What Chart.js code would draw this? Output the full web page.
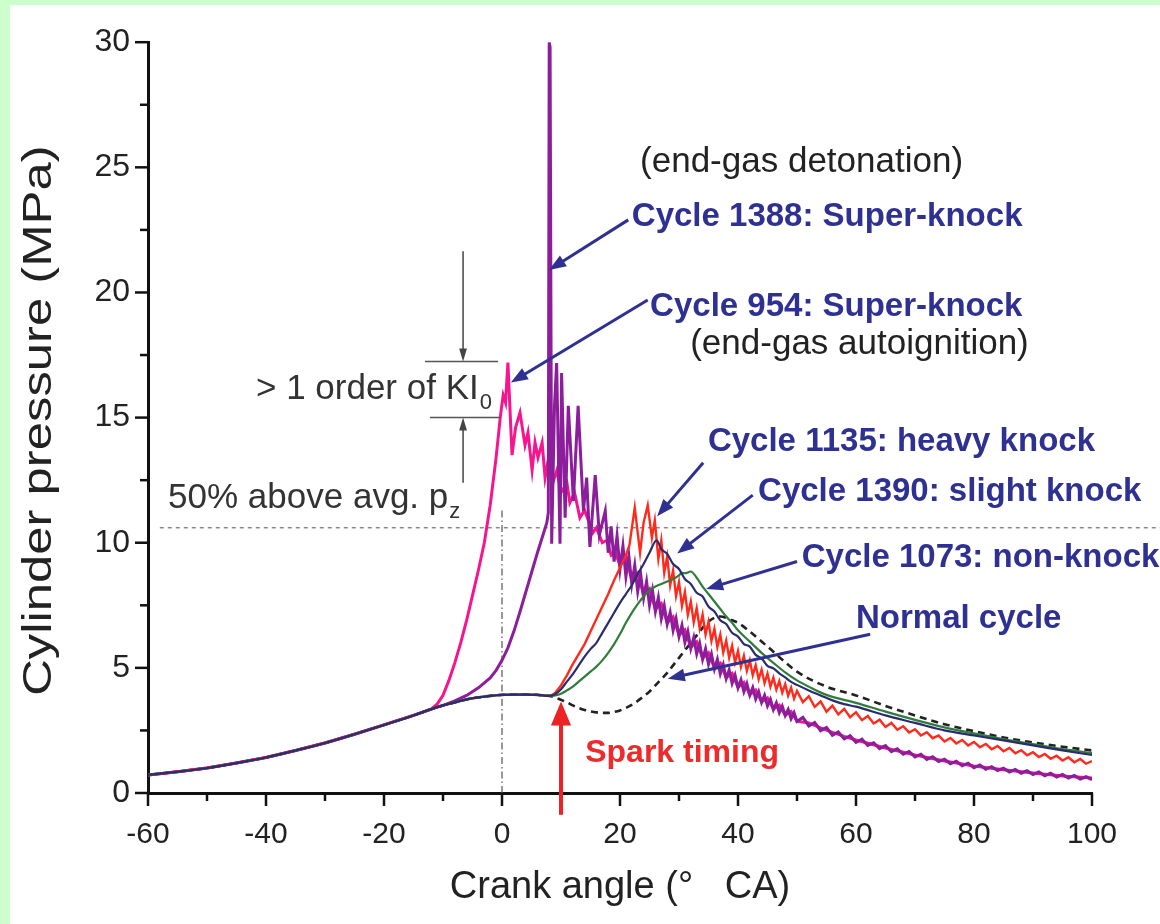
<!DOCTYPE html>
<html>
<head>
<meta charset="utf-8">
<script src="https://cdn.jsdelivr.net/npm/chart.js@4.4.1/dist/chart.umd.min.js"></script>
<style>
  html, body { margin: 0; padding: 0; background: #ccffcc; }
  #wrap { position: absolute; left: 10px; top: 5px; width: 1150px; height: 919px; background: #fff; }
</style>
</head>
<body>
<div id="wrap"><canvas id="chart" width="1150" height="919"></canvas></div>
<script>
// cylinder pressure traces, [crank angle °CA, pressure MPa]

// compression stroke, shared by every cycle until it departs
const compression = [[-60,0.72],[-55,0.85],[-50,1.0],[-45,1.2],[-40,1.42],[-35,1.7],[-30,2.0],
  [-25,2.35],[-20,2.72],[-15,3.1],[-12,3.35],[-10,3.5],[-8,3.62],[-6,3.74],[-4,3.82],[-2,3.88],
  [0,3.92],[2,3.93],[4,3.93],[6,3.92],[8,3.88]];

// Cycle 954 (super-knock, end-gas autoignition)
const head954 = [[-11,3.55],[-10,3.9],[-9,4.5],[-8,5.2],[-7,6.0],[-6,6.9],[-5,7.9],[-4,8.9],
  [-3,10.0],[-2,11.5],[-1,13.4],[-0.3,15.0],[0.2,15.9],[0.6,15.6],[1.0,17.2],[1.7,13.5],[2.3,14.6],
  [3.05,15.2],[3.9,13.9],[4.4,14.4],[5.1,12.9],[5.6,14.0],[6.1,13.4],[6.8,14.0],[7.3,12.6],
  [7.9,13.4],[8.5,12.3],[9.3,12.9],[10,12.0],[11,12.4],[11.5,11.6],[12.3,12.0],[13.2,11.0],
  [14,11.3],[15.4,10.4],[16,10.6],[17,10.0],[17.8,10.1],[18.5,9.5],[19.2,9.6],[20,9.1]];
const tail954 = [9.45,8.5,8.78,7.92,8.16,7.34,7.57,6.8,7.04,6.31,6.52,5.83,6.04,5.39,5.6,5.0,
  5.19,4.61,4.78,4.22,4.42,3.93,4.11,3.64,3.8,3.35,3.51,3.11,3.25,2.87];      // 21..50, every 1°
const end954 = [[52,2.8],[54,2.6],[56,2.42],[58,2.26],[60,2.12],[65,1.8],[70,1.52],[75,1.28],
  [80,1.08],[85,0.93],[90,0.8],[95,0.68],[100,0.6]];

// Cycle 1388 (super-knock, end-gas detonation)
const head1388 = [[-8,3.68],[-6,3.9],[-4,4.2],[-2,4.6],[-1,4.9],[0,5.3],[1,5.8],[2,6.45],[3,7.2],
  [4,8.0],[5,8.8],[6,9.6],[7,10.35],[7.6,10.8],[7.85,11.2],[8.0,30],[8.15,29.8],[8.42,9.96],
  [8.9,15.5],[9.26,17.18],[9.83,9.96],[10.1,16.78],[10.7,11.0],[11.24,15.47],[12.1,11.67],
  [12.9,15.47],[13.8,11.27],[14.35,12.6],[14.9,9.83],[15.8,12.7],[16.5,10.3],[17.5,11.27],[18.0,9.6]];
const tail1388Fine = [10.65,9.25,10.27,8.95,9.87,8.65,9.47,8.35,9.1,8.05,
  8.75,7.8,8.45,7.5,8.1,7.25,7.81,6.97,7.49,6.75,
  7.22,6.5,6.97,6.25,6.7,6.02,6.45,5.77,6.21,5.56,
  5.98,5.34,5.76,5.15,5.55,4.95,5.34,4.76,5.13,4.57,
  4.92,4.38,4.71,4.2,4.52,4.05,4.37,3.91,4.21,3.76,
  4.05,3.62,3.9,3.48,3.74,3.33,3.6,3.21,3.47,3.1,
  3.34,2.97,3.21,2.86];                                                     // 18.5..50, every 0.5°
const tail1388Coarse = [3.02,2.68,2.82,2.49,2.62,2.31,2.44,2.16,2.29,2.02,2.15,1.9,2.01,1.77,
  1.89,1.65,1.77,1.55,1.66,1.44,1.55,1.34,1.45,1.26,1.35,1.17,1.27,1.09,1.19,1.01,1.12,0.95,
  1.05,0.9,0.99,0.84,0.94,0.79,0.89,0.74,0.84,0.69,0.79,0.64,0.74,0.6,0.7,0.56,0.65,0.53]; // 51..100

// Cycle 1135 (heavy knock)
const head1135 = [[8.5,3.92],[9,4.0],[10,4.3],[11,4.7],[12,5.15],[13,5.55],[14,5.95],[15,6.45],
  [16,6.95],[17,7.45],[18,7.95],[19,8.5],[20,9.0],[21,9.5],[21.6,9.9],[22.5,11.4],[23.4,9.6],
  [24.0,10.8],[24.7,11.5],[25.4,10.2],[25.9,10.9]];
const tail1135Fine = [9.35,10.1,8.8,9.45,8.3,8.9,7.87,8.43,7.47,8.03,
  7.12,7.65,6.82,7.39,6.58,7.13,6.33,6.84,6.07,6.56,
  5.83,6.33,5.61,6.09,5.41,5.88,5.22,5.67,5.04,5.48,
  4.88,5.3,4.71,5.11,4.55,4.93,4.39,4.77,4.25,4.61,
  4.13,4.47,4.01,4.35,3.89,4.21,3.77,4.08];                                  // 26.5..50, every 0.5°
const tail1135Coarse = [3.63,3.87,3.44,3.66,3.25,3.49,3.14,3.36,3.03,3.23,2.91,3.08,2.78,2.93,
  2.64,2.8,2.53,2.67,2.42,2.55,2.3,2.43,2.19,2.3,2.06,2.2,1.98,2.12,1.9,2.04,1.83,1.96,1.75,1.88,
  1.67,1.8,1.59,1.71,1.51,1.63,1.44,1.56,1.37,1.49,1.3,1.43,1.23,1.36,1.17,1.28];         // 51..100

// Cycle 1390 (slight knock)
const cycle1390 = [[9,3.95],[10,4.15],[11,4.45],[12,4.75],[13,5.1],[14,5.45],[15,5.75],[16,6.0],
  [17,6.4],[18,6.8],[19,7.2],[20,7.6],[21,7.95],[22,8.3],[23,8.75],[24,9.15],[25,9.6],[26.2,10.1],
  [27,9.75],[28,9.55],[29,9.15],[30,8.95],[31,8.55],[32,8.35],[33,8.0],[34,7.85],[35,7.45],
  [36,7.25],[37,6.9],[38,6.75],[39,6.4],[40,6.25],[41,5.95],[42,5.85],[43,5.52],[44,5.38],[45,5.08],
  [46,4.98],[47,4.78],[48,4.62],[49,4.44],[50,4.32],[52,4.1],[54,3.9],[56,3.7],[58,3.55],[60,3.45],
  [65,3.1],[70,2.8],[75,2.5],[80,2.3],[85,2.1],[90,1.9],[95,1.7],[100,1.52]];

// Cycle 1073 (non-knock)
const cycle1073 = [[9,3.9],[10,3.97],[11,4.1],[12,4.25],[13,4.45],[14,4.65],[15,4.85],[16,5.05],
  [17,5.3],[18,5.6],[19,5.95],[20,6.35],[21,6.8],[22,7.2],[23,7.55],[24,7.85],[25,8.1],[26,8.25],
  [27,8.35],[28,8.45],[29,8.55],[30,8.7],[30.5,8.8],[31,8.78],[32,8.85],[33,8.6],[34,8.25],
  [35,7.95],[36,7.65],[37,7.35],[38,7.05],[39,6.8],[40,6.5],[42,6.05],[44,5.6],[46,5.2],[48,4.82],
  [50,4.5],[52,4.25],[55,3.92],[60,3.6],[65,3.25],[70,2.92],[75,2.62],[80,2.38],[85,2.15],
  [90,1.95],[95,1.75],[100,1.6]];

// normal cycle (dashed)
const normalCycle = [[9,3.82],[10,3.72],[11,3.62],[12,3.5],[13,3.4],[14,3.32],[15,3.26],[16,3.22],
  [17,3.2],[18,3.2],[19,3.24],[20,3.3],[21,3.4],[22,3.52],[23,3.68],[24,3.86],[25,4.05],[26,4.3],
  [27,4.55],[28,4.8],[29,5.1],[30,5.4],[31,5.7],[32,6.0],[33,6.3],[34,6.6],[35,6.85],[36,7.0],
  [37,7.05],[38,7.0],[39,6.9],[40,6.8],[42,6.45],[45,5.85],[50,4.85],[55,4.25],[60,3.9],[65,3.48],
  [70,3.1],[75,2.75],[80,2.47],[85,2.22],[90,2.02],[95,1.85],[100,1.7]];

const pzLine = 10.6;        // 50% above average peak pressure
const sparkAngle = 10;

const FONT = '"Liberation Sans", Arial, Helvetica, sans-serif';
const NAVY = '#2e3192';

function upTo(x) { return compression.filter(p => p[0] <= x); }
function onGrid(start, step, ys) { return ys.map((y, i) => [start + i * step, y]); }
function pts(arr) { return arr.map(([x, y]) => ({ x, y })); }

const data954  = pts([...upTo(-12), ...head954, ...onGrid(21, 1, tail954), ...end954]);
const data1388 = pts([...upTo(-10), ...head1388, ...onGrid(18.5, 0.5, tail1388Fine), ...onGrid(51, 1, tail1388Coarse)]);
const data1135 = pts([...upTo(8), ...head1135, ...onGrid(26.5, 0.5, tail1135Fine), ...onGrid(51, 1, tail1135Coarse)]);
const data1390 = pts([...upTo(8), ...cycle1390]);
const data1073 = pts([...upTo(8), ...cycle1073]);
const dataNormal = pts([...upTo(8), ...normalCycle]);

// text labels and arrows, placed in data units
const notes = [
  { text: '(end-gas detonation)', x: 23.4, y: 24.8, color: '#222' },
  { text: 'Cycle 1388: Super-knock', x: 22.0, y: 22.65, color: NAVY, bold: true },
  { text: 'Cycle 954: Super-knock', x: 25.1, y: 19.05, color: NAVY, bold: true },
  { text: '(end-gas autoignition)', x: 31.9, y: 17.55, color: '#222' },
  { text: 'Cycle 1135: heavy knock', x: 34.9, y: 13.65, color: NAVY, bold: true },
  { text: 'Cycle 1390: slight knock', x: 43.4, y: 11.68, color: NAVY, bold: true },
  { text: 'Cycle 1073: non-knock', x: 50.8, y: 9.02, color: NAVY, bold: true },
  { text: 'Normal cycle', x: 60.0, y: 6.6, color: NAVY, bold: true },
  { text: 'Spark timing', x: 14.1, y: 1.22, color: '#ee2a2a', bold: true, size: 32 },
  { text: '50% above avg. p', sub: 'z', x: -56.6, y: 11.4, color: '#333' },
  { text: '> 1 order of KI', sub: '0', x: -41.7, y: 15.75, color: '#333' },
];
const pointers = [
  { from: [21.4, 22.9], to: [7.97, 20.9] },
  { from: [24.7, 19.7], to: [1.5, 16.4] },
  { from: [34.1, 13.2], to: [26.3, 11.06] },
  { from: [42.5, 11.9], to: [29.7, 9.57] },
  { from: [50.0, 9.25], to: [34.6, 8.15] },
  { from: [62.4, 6.34], to: [28.1, 4.57] },
];

function arrow(ctx, x1, y1, x2, y2, color, width, head, spread) {
  const a = Math.atan2(y2 - y1, x2 - x1);
  const c = Math.cos(a), s = Math.sin(a);
  ctx.strokeStyle = color; ctx.fillStyle = color; ctx.lineWidth = width;
  ctx.setLineDash([]);
  ctx.beginPath();
  ctx.moveTo(x1, y1);
  ctx.lineTo(x2 - head * 0.8 * c, y2 - head * 0.8 * s);
  ctx.stroke();
  ctx.beginPath();
  ctx.moveTo(x2, y2);
  ctx.lineTo(x2 - head * c + head * spread * s, y2 - head * s - head * spread * c);
  ctx.lineTo(x2 - head * c - head * spread * s, y2 - head * s + head * spread * c);
  ctx.closePath();
  ctx.fill();
}

const annotate = {
  id: 'annotate',
  beforeDatasetsDraw(chart) {
    const { ctx, scales: { x, y } } = chart;
    ctx.save();
    ctx.strokeStyle = '#8a8a8a'; ctx.lineWidth = 1.5; ctx.setLineDash([4, 4]);
    const py = y.getPixelForValue(pzLine);
    ctx.beginPath(); ctx.moveTo(x.getPixelForValue(-58), py); ctx.lineTo(chart.width, py); ctx.stroke();
    ctx.strokeStyle = '#555'; ctx.lineWidth = 1.2; ctx.setLineDash([7, 3, 1.5, 3]);
    const px = x.getPixelForValue(0);
    ctx.beginPath(); ctx.moveTo(px, y.getPixelForValue(0)); ctx.lineTo(px, y.getPixelForValue(11.3)); ctx.stroke();
    ctx.restore();
  },
  afterDraw(chart) {
    const { ctx, chartArea, scales: { x, y } } = chart;
    ctx.save();
    ctx.setLineDash([]);

    // outward tick marks, long on labelled values
    ctx.strokeStyle = '#111'; ctx.lineWidth = 2.5;
    x.ticks.forEach(t => {
      const px = x.getPixelForValue(t.value), len = t.value % 20 === 0 ? 13 : 8;
      ctx.beginPath(); ctx.moveTo(px, chartArea.bottom); ctx.lineTo(px, chartArea.bottom + len); ctx.stroke();
    });
    y.ticks.forEach(t => {
      const py = y.getPixelForValue(t.value), len = t.value % 5 === 0 ? 13 : 8;
      ctx.beginPath(); ctx.moveTo(chartArea.left, py); ctx.lineTo(chartArea.left - len, py); ctx.stroke();
    });

    // y-axis title, drawn stretched like the original figure
    ctx.save();
    ctx.translate(30, (chartArea.top + chartArea.bottom) / 2 + 3);
    ctx.rotate(-Math.PI / 2);
    ctx.scale(1.27, 1);
    ctx.fillStyle = '#222';
    ctx.font = '40px ' + FONT;
    ctx.textAlign = 'center'; ctx.textBaseline = 'middle';
    ctx.fillText('Cylinder pressure (MPa)', 0, 0);
    ctx.restore();

    // KI bracket
    ctx.strokeStyle = '#555'; ctx.lineWidth = 1.5;
    const hl = (x1, x2, v) => {
      ctx.beginPath(); ctx.moveTo(x.getPixelForValue(x1), y.getPixelForValue(v));
      ctx.lineTo(x.getPixelForValue(x2), y.getPixelForValue(v)); ctx.stroke();
    };
    hl(-13.05, -0.68, 17.24);
    hl(-12.2, -0.34, 15.0);
    const kx = x.getPixelForValue(-6.6);
    arrow(ctx, kx, y.getPixelForValue(21.65), kx, y.getPixelForValue(17.24), '#444', 1.5, 13, 0.3);
    arrow(ctx, kx, y.getPixelForValue(12.4), kx, y.getPixelForValue(15.0), '#444', 1.5, 13, 0.3);

    // spark timing arrow
    const sx = x.getPixelForValue(sparkAngle);
    arrow(ctx, sx, y.getPixelForValue(-0.87), sx, y.getPixelForValue(3.66), '#ee2222', 4, 24, 0.42);

    pointers.forEach(p => arrow(ctx,
      x.getPixelForValue(p.from[0]), y.getPixelForValue(p.from[1]),
      x.getPixelForValue(p.to[0]), y.getPixelForValue(p.to[1]), NAVY, 3, 17, 0.38));

    ctx.textBaseline = 'alphabetic'; ctx.textAlign = 'left';
    notes.forEach(n => {
      const px = x.getPixelForValue(n.x), py = y.getPixelForValue(n.y);
      const size = n.size || (n.bold ? 33 : 35);
      ctx.fillStyle = n.color;
      ctx.font = (n.bold ? 'bold ' : '') + size + 'px ' + FONT;
      ctx.fillText(n.text, px, py);
      if (n.sub) {
        const w = ctx.measureText(n.text).width;
        ctx.font = '22px ' + FONT;
        ctx.fillText(n.sub, px + w + 1, py + 10);
      }
    });
    ctx.restore();
  }
};

Chart.defaults.font.family = FONT;
Chart.defaults.color = '#222';

const line = (label, data, color, width, order, extra) => Object.assign({
  label, data, borderColor: color, backgroundColor: color, borderWidth: width,
  pointRadius: 0, cubicInterpolationMode: 'monotone', order
}, extra || {});
const sharp = { cubicInterpolationMode: 'default', tension: 0 };

new Chart(document.getElementById('chart'), {
  type: 'line',
  data: {
    datasets: [
      line('Cycle 1390', data1390, '#2b2b70', 2.2, 1),
      line('Cycle 1073', data1073, '#2f7d3a', 2.2, 2),
      line('Cycle 1135', data1135, '#ff2a1c', 2.4, 3, sharp),
      line('Cycle 1388', data1388, '#8c1e9c', 3, 4, sharp),
      line('Cycle 954', data954, '#f7158f', 3, 5, sharp),
      line('Normal cycle', dataNormal, '#222', 2.6, 6, { borderDash: [7, 5] }),
    ]
  },
  options: {
    responsive: false,
    animation: false,
    layout: { padding: { left: 0, right: 68, top: 26, bottom: 0 } },
    plugins: { legend: { display: false }, tooltip: { enabled: false } },
    scales: {
      x: {
        type: 'linear', min: -60, max: 100,
        border: { display: true, color: '#111', width: 3 },
        grid: { display: false, drawTicks: false },
        ticks: {
          stepSize: 10, autoSkip: false, maxRotation: 0, padding: 24,
          color: '#222', font: { size: 30 },
          callback: v => (v % 20 === 0 ? String(v) : '')
        },
        title: { display: true, text: 'Crank angle (°   CA)', color: '#222', font: { size: 38 }, padding: { top: 0, bottom: 14 } },
        afterFit: s => { s.height = 131; }
      },
      y: {
        type: 'linear', min: 0, max: 30,
        border: { display: true, color: '#111', width: 3 },
        grid: { display: false, drawTicks: false },
        ticks: {
          stepSize: 2.5, autoSkip: false, padding: 18,
          color: '#222', font: { size: 32 },
          callback: v => (v % 5 === 0 ? String(v) : '')
        },
        title: { display: false },
        afterFit: s => { s.width = 138; }
      }
    }
  },
  plugins: [annotate]
});
</script>
</body>
</html>
